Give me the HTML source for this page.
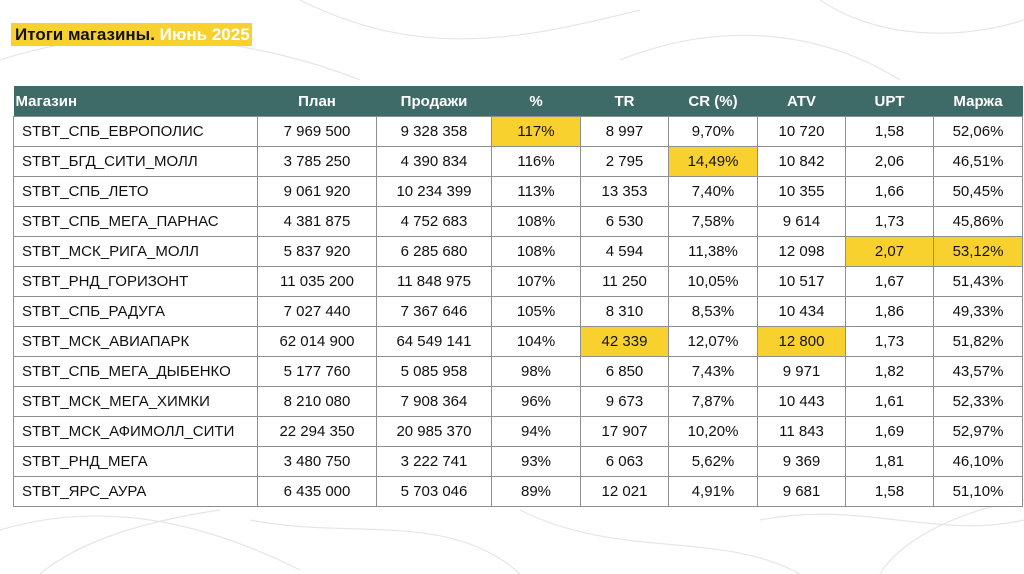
<!DOCTYPE html>
<html>
<head>
<meta charset="utf-8">
<style>
  html,body{margin:0;padding:0;}
  body{width:1024px;height:574px;position:relative;overflow:hidden;background:#fff;font-family:"Liberation Sans",Arial,sans-serif;}
  .bg{position:absolute;left:0;top:0;}
  .title{position:absolute;left:11px;top:23px;height:23px;width:241px;background:#f9d12f;font-weight:bold;font-size:17px;line-height:24px;padding-left:4px;box-sizing:border-box;white-space:nowrap;color:#111;}
  .title span{color:#fff;}
  table{position:absolute;left:13px;top:86px;width:1009px;border-collapse:collapse;table-layout:fixed;font-size:15px;}
  th{background:#3e6b67;color:#fff;font-weight:bold;height:30px;padding:0;text-align:center;border:none;}
  th.l{text-align:left;padding-left:2px;}
  td{height:29px;padding:0;text-align:center;border:1px solid #8e8e8e;color:#111;background:rgba(255,255,255,0.85);}
  td.l{text-align:left;padding-left:8px;}
  td.y{background:#f9d12f;}
</style>
</head>
<body>
<svg class="bg" width="1024" height="574" viewBox="0 0 1024 574">
  <g fill="none" stroke="#e6e6e6" stroke-width="1.2">
    <path d="M0 60 C120 20 260 40 360 80"/>
    <path d="M300 0 C420 60 520 40 640 10"/>
    <path d="M620 60 C720 20 820 30 900 80"/>
    <path d="M820 0 C880 40 960 40 1024 20"/>
    <path d="M0 530 C100 500 200 520 300 570"/>
    <path d="M250 520 C350 540 450 510 520 574"/>
    <path d="M520 510 C620 560 720 530 800 574"/>
    <path d="M760 520 C860 500 940 540 1024 520"/>
    <path d="M40 574 C80 540 150 520 220 510"/>
    <path d="M880 574 C900 540 960 510 1024 500"/>
  </g>
</svg>
<div class="title">Итоги магазины. <span>Июнь 2025</span></div>
<table>
  <colgroup>
    <col style="width:244px"><col style="width:119px"><col style="width:115px"><col style="width:89px"><col style="width:88px"><col style="width:89px"><col style="width:88px"><col style="width:88px"><col style="width:89px">
  </colgroup>
  <tr><th class="l">Магазин</th><th>План</th><th>Продажи</th><th>%</th><th>TR</th><th>CR (%)</th><th>ATV</th><th>UPT</th><th>Маржа</th></tr>
  <tr><td class="l">STBT_СПБ_ЕВРОПОЛИС</td><td>7 969 500</td><td>9 328 358</td><td class="y">117%</td><td>8 997</td><td>9,70%</td><td>10 720</td><td>1,58</td><td>52,06%</td></tr>
  <tr><td class="l">STBT_БГД_СИТИ_МОЛЛ</td><td>3 785 250</td><td>4 390 834</td><td>116%</td><td>2 795</td><td class="y">14,49%</td><td>10 842</td><td>2,06</td><td>46,51%</td></tr>
  <tr><td class="l">STBT_СПБ_ЛЕТО</td><td>9 061 920</td><td>10 234 399</td><td>113%</td><td>13 353</td><td>7,40%</td><td>10 355</td><td>1,66</td><td>50,45%</td></tr>
  <tr><td class="l">STBT_СПБ_МЕГА_ПАРНАС</td><td>4 381 875</td><td>4 752 683</td><td>108%</td><td>6 530</td><td>7,58%</td><td>9 614</td><td>1,73</td><td>45,86%</td></tr>
  <tr><td class="l">STBT_МСК_РИГА_МОЛЛ</td><td>5 837 920</td><td>6 285 680</td><td>108%</td><td>4 594</td><td>11,38%</td><td>12 098</td><td class="y">2,07</td><td class="y">53,12%</td></tr>
  <tr><td class="l">STBT_РНД_ГОРИЗОНТ</td><td>11 035 200</td><td>11 848 975</td><td>107%</td><td>11 250</td><td>10,05%</td><td>10 517</td><td>1,67</td><td>51,43%</td></tr>
  <tr><td class="l">STBT_СПБ_РАДУГА</td><td>7 027 440</td><td>7 367 646</td><td>105%</td><td>8 310</td><td>8,53%</td><td>10 434</td><td>1,86</td><td>49,33%</td></tr>
  <tr><td class="l">STBT_МСК_АВИАПАРК</td><td>62 014 900</td><td>64 549 141</td><td>104%</td><td class="y">42 339</td><td>12,07%</td><td class="y">12 800</td><td>1,73</td><td>51,82%</td></tr>
  <tr><td class="l">STBT_СПБ_МЕГА_ДЫБЕНКО</td><td>5 177 760</td><td>5 085 958</td><td>98%</td><td>6 850</td><td>7,43%</td><td>9 971</td><td>1,82</td><td>43,57%</td></tr>
  <tr><td class="l">STBT_МСК_МЕГА_ХИМКИ</td><td>8 210 080</td><td>7 908 364</td><td>96%</td><td>9 673</td><td>7,87%</td><td>10 443</td><td>1,61</td><td>52,33%</td></tr>
  <tr><td class="l">STBT_МСК_АФИМОЛЛ_СИТИ</td><td>22 294 350</td><td>20 985 370</td><td>94%</td><td>17 907</td><td>10,20%</td><td>11 843</td><td>1,69</td><td>52,97%</td></tr>
  <tr><td class="l">STBT_РНД_МЕГА</td><td>3 480 750</td><td>3 222 741</td><td>93%</td><td>6 063</td><td>5,62%</td><td>9 369</td><td>1,81</td><td>46,10%</td></tr>
  <tr><td class="l">STBT_ЯРС_АУРА</td><td>6 435 000</td><td>5 703 046</td><td>89%</td><td>12 021</td><td>4,91%</td><td>9 681</td><td>1,58</td><td>51,10%</td></tr>
</table>
</body>
</html>
